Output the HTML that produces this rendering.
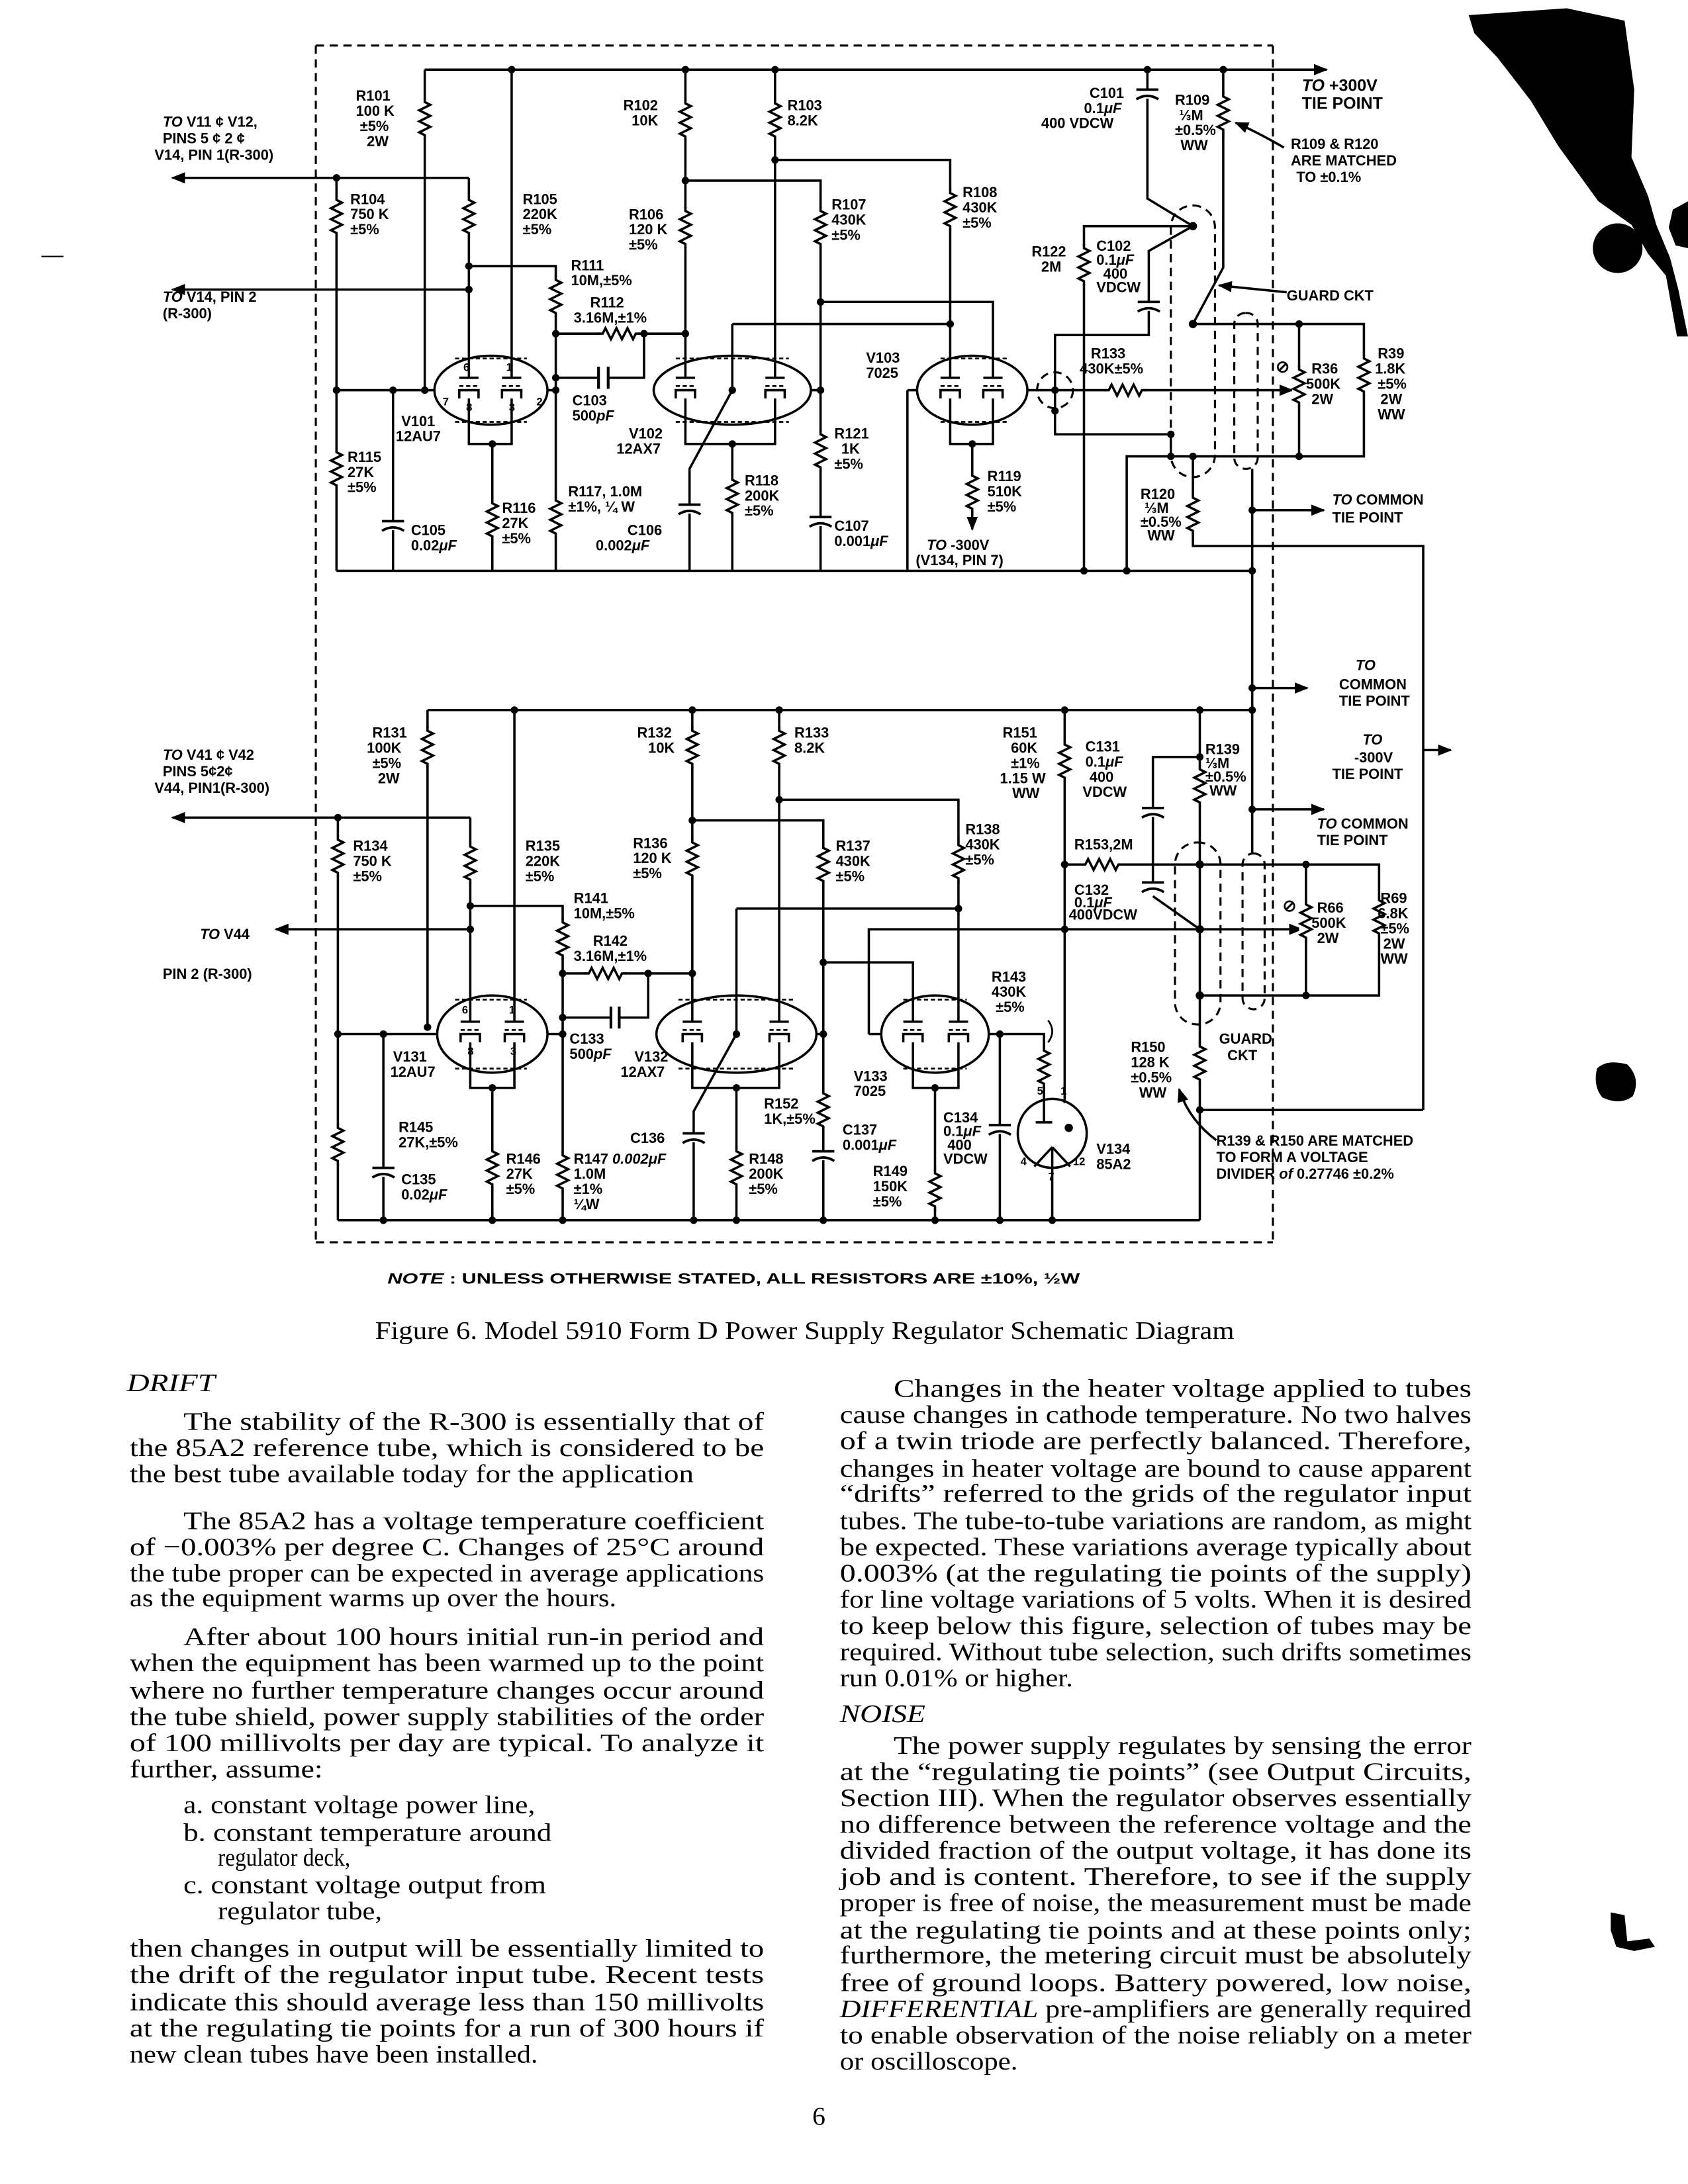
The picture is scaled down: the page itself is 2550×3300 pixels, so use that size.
<!DOCTYPE html>
<html><head><meta charset="utf-8"><style>
html,body{margin:0;padding:0;background:#fff}
svg{display:block}
.w{stroke:#000;stroke-width:1.7;fill:none}
.d{stroke:#000;stroke-width:1.5;fill:none;stroke-dasharray:6 4}
.dt{stroke:#000;stroke-width:1.3;fill:none;stroke-dasharray:3 2}
.l{font-family:"Liberation Sans",sans-serif;font-weight:bold;font-size:10.5px;fill:#000}
.b{font-family:"Liberation Serif",serif;font-size:18.5px;fill:#000}
.i{font-style:italic}
</style></head><body>
<svg width="2550" height="3300" viewBox="0 0 1224 1584" xmlns="http://www.w3.org/2000/svg">
<defs>
<symbol id="rv" overflow="visible"><rect x="-5" y="1" width="10" height="28" fill="#fff"/><path d="M0 0v3l4 2-8 4 8 4-8 4 8 4-8 4 4 2v3" fill="none" stroke="#000" stroke-width="1.7"/></symbol>
<symbol id="rh" overflow="visible"><rect x="1" y="-5" width="28" height="10" fill="#fff"/><path d="M0 0h3l2-4 4 8 4-8 4 8 4-8 4 8 2-4h3" fill="none" stroke="#000" stroke-width="1.7"/></symbol>
<symbol id="cv" overflow="visible"><rect x="-8" y="0.5" width="16" height="6" fill="#fff"/><path d="M-8 0h16M-8 7q8-5 16 0" fill="none" stroke="#000" stroke-width="1.8"/></symbol>
<marker id="ah" viewBox="0 0 10 10" refX="9" refY="5" markerWidth="6" markerHeight="6" orient="auto"><path d="M0 1L10 5L0 9z" fill="#000"/></marker>
</defs>
<rect width="1224" height="1584" fill="#fff"/>

<!-- border -->
<path class="d" d="M229 33H923M229 901H923M229 33V901M923 33V901"/>

<!-- ================= UPPER ================= -->
<g class="w">
<path d="M308 50.5H962" marker-end="url(#ah)"/>
<path d="M308 50.5V283M371 50.5V274M497 50.5V274M562 50.5V274"/>
<path d="M497 131H595V414M562 116H689V274M595 219H720V274M531 235H689"/>
<path d="M531 235V283L500 340V414"/>
<path d="M244 283H315M244 129V414"/>
<path d="M340 129H125" marker-end="url(#ah)"/>
<path d="M340 129V274"/>
<path d="M340 210H125" marker-end="url(#ah)"/>
<path d="M340 193H403V414M403 242H497M467 242V274H441M434 274H403M397 283H403"/>
<path d="M357 322V414M285 283V414M531 322V414M588 283H595"/>
<path d="M658 283H665M658 283V414M705 322V372"/>
<path d="M705 360V384" marker-end="url(#ah)"/>
<path d="M745 283H937" marker-end="url(#ah)"/>
<path d="M865 164L833 182V243H765V283M765 283V315H849V331"/>
<path d="M832 50.5V144L865 164M887 50.5V194L865 235M865 164H786V414"/>
<path d="M865 235H989V331H817V414M942 235V331"/>
<path d="M865 331V396H1032V805"/>
<path d="M908 340V619"/>
<path d="M908 370H960" marker-end="url(#ah)"/>
<path d="M244 414H908"/>
<path d="M434 266V282M441 266V282" stroke-width="2"/>
<!-- tubes upper -->
<ellipse cx="356" cy="283" rx="41" ry="25"/>
<ellipse cx="531" cy="283" rx="57" ry="25"/>
<ellipse cx="705" cy="283" rx="40" ry="25"/>
<circle class="d" cx="765" cy="283" r="13"/>
<path d="M333 274h14M364 274h14M490 274h14M555 274h14M682 274h14M713 274h14"/>
<path d="M333 289v-6h14v6M364 289v-6h14v6M490 289v-6h14v6M555 289v-6h14v6M682 289v-6h14v6M713 289v-6h14v6"/>
<path d="M340 289V322H371V289M497 289V322H562V289M689 289V322H720V289"/>
<!-- guard -->
<rect class="d" x="849" y="149" width="32" height="197" rx="16"/>
<rect class="d" x="895" y="227" width="17" height="113" rx="8"/>
<path d="M931 107Q910 95 896 89" marker-end="url(#ah)"/>
<path d="M933 212L884 207" marker-end="url(#ah)"/>
</g>
<g class="dt">
<path d="M333 280h14M364 280h14M490 280h14M555 280h14M682 280h14M713 280h14"/>
<path d="M330 260h52M330 306h52M490 260h82M490 306h82M682 260h48M682 306h48"/>
</g>
<g>
<use href="#rv" x="308" y="71"/><use href="#rv" x="497" y="72"/><use href="#rv" x="497" y="150"/>
<use href="#rv" x="562" y="72"/><use href="#rv" x="595" y="150"/><use href="#rv" x="595" y="312"/>
<use href="#rv" x="689" y="137"/><use href="#rv" x="244" y="142"/><use href="#rv" x="244" y="325"/>
<use href="#rv" x="340" y="142"/><use href="#rv" x="403" y="200"/><use href="#rv" x="403" y="360"/>
<use href="#rh" x="434" y="242"/><use href="#rv" x="357" y="362"/><use href="#rv" x="531" y="345"/>
<use href="#rv" x="705" y="342"/><use href="#rh" x="801" y="283"/><use href="#rv" x="887" y="67"/>
<use href="#rv" x="786" y="177"/><use href="#rv" x="942" y="265"/><use href="#rv" x="989" y="257"/>
<use href="#rv" x="865" y="358"/>
<use href="#cv" x="285" y="378"/><use href="#cv" x="500" y="366"/><use href="#cv" x="595" y="375"/>
<use href="#cv" x="832" y="65"/><use href="#cv" x="833" y="219"/>
</g>
<g fill="#000">
<circle cx="371" cy="50.5" r="2.7"/><circle cx="497" cy="50.5" r="2.7"/><circle cx="562" cy="50.5" r="2.7"/>
<circle cx="832" cy="50.5" r="2.7"/><circle cx="887" cy="50.5" r="2.7"/>
<circle cx="244" cy="129" r="2.7"/><circle cx="340" cy="193" r="2.7"/><circle cx="340" cy="210" r="2.7"/>
<circle cx="403" cy="242" r="2.7"/><circle cx="467" cy="242" r="2.7"/><circle cx="497" cy="242" r="2.7"/>
<circle cx="403" cy="274" r="2.7"/><circle cx="403" cy="283" r="2.7"/><circle cx="244" cy="283" r="2.7"/>
<circle cx="285" cy="283" r="2.7"/><circle cx="308" cy="283" r="2.7"/><circle cx="357" cy="322" r="2.7"/>
<circle cx="497" cy="131" r="2.7"/><circle cx="562" cy="116" r="2.7"/><circle cx="595" cy="219" r="2.7"/>
<circle cx="689" cy="235" r="2.7"/><circle cx="531" cy="283" r="2.7"/><circle cx="595" cy="283" r="2.7"/>
<circle cx="531" cy="322" r="2.7"/><circle cx="705" cy="322" r="2.7"/><circle cx="765" cy="283" r="2.7"/>
<circle cx="765" cy="298" r="2.7"/><circle cx="865" cy="164" r="3"/><circle cx="865" cy="235" r="3"/>
<circle cx="942" cy="235" r="2.7"/><circle cx="942" cy="331" r="2.7"/><circle cx="849" cy="315" r="2.7"/>
<circle cx="849" cy="331" r="2.7"/><circle cx="865" cy="331" r="2.7"/><circle cx="908" cy="370" r="2.7"/>
<circle cx="786" cy="414" r="2.7"/><circle cx="817" cy="414" r="2.7"/><circle cx="908" cy="414" r="2.7"/>
</g>
<g class="l">
<text x="258" y="73">R101<tspan x="258" dy="11">100 K</tspan><tspan x="261" dy="11">±5%</tspan><tspan x="266" dy="11">2W</tspan></text>
<text x="118" y="92" class="l"><tspan class="i">TO</tspan> V11 ¢ V12,<tspan x="118" dy="12">PINS 5 ¢ 2 ¢</tspan><tspan x="112" dy="12">V14, PIN 1(R-300)</tspan></text>
<text x="118" y="219"><tspan class="i">TO</tspan> V14, PIN 2<tspan x="118" dy="12">(R-300)</tspan></text>
<text x="254" y="148">R104<tspan x="254" dy="11">750 K</tspan><tspan x="254" dy="11">±5%</tspan></text>
<text x="379" y="148">R105<tspan x="379" dy="11">220K</tspan><tspan x="379" dy="11">±5%</tspan></text>
<text x="452" y="80">R102<tspan x="458" dy="11">10K</tspan></text>
<text x="571" y="80">R103<tspan x="571" dy="11">8.2K</tspan></text>
<text x="456" y="159">R106<tspan x="456" dy="11">120 K</tspan><tspan x="456" dy="11">±5%</tspan></text>
<text x="603" y="152">R107<tspan x="603" dy="11">430K</tspan><tspan x="603" dy="11">±5%</tspan></text>
<text x="698" y="143">R108<tspan x="698" dy="11">430K</tspan><tspan x="698" dy="11">±5%</tspan></text>
<text x="414" y="196">R111<tspan x="414" dy="11">10M,±5%</tspan></text>
<text x="428" y="223">R112<tspan x="416" dy="11">3.16M,±1%</tspan></text>
<text x="415" y="294">C103<tspan x="415" dy="11">500<tspan class="i">pF</tspan></tspan></text>
<text x="291" y="309">V101<tspan x="287" dy="11">12AU7</tspan></text>
<text x="456" y="318">V102<tspan x="447" dy="11">12AX7</tspan></text>
<text x="628" y="263">V103<tspan x="628" dy="11">7025</tspan></text>
<text x="252" y="335">R115<tspan x="252" dy="11">27K</tspan><tspan x="252" dy="11">±5%</tspan></text>
<text x="364" y="372">R116<tspan x="364" dy="11">27K</tspan><tspan x="364" dy="11">±5%</tspan></text>
<text x="412" y="360">R117, 1.0M<tspan x="412" dy="11">±1%, ¼ W</tspan></text>
<text x="298" y="388">C105<tspan x="298" dy="11">0.02<tspan class="i">μF</tspan></tspan></text>
<text x="455" y="388">C106<tspan x="432" dy="11">0.002<tspan class="i">μF</tspan></tspan></text>
<text x="540" y="352">R118<tspan x="540" dy="11">200K</tspan><tspan x="540" dy="11">±5%</tspan></text>
<text x="605" y="318">R121<tspan x="610" dy="11">1K</tspan><tspan x="605" dy="11">±5%</tspan></text>
<text x="605" y="385">C107<tspan x="605" dy="11">0.001<tspan class="i">μF</tspan></tspan></text>
<text x="716" y="349">R119<tspan x="716" dy="11">510K</tspan><tspan x="716" dy="11">±5%</tspan></text>
<text x="672" y="399"><tspan class="i">TO</tspan> -300V<tspan x="664" dy="11">(V134, PIN 7)</tspan></text>
<text x="790" y="71">C101<tspan x="786" dy="11">0.1<tspan class="i">μF</tspan></tspan><tspan x="755" dy="11">400 VDCW</tspan></text>
<text x="852" y="76">R109<tspan x="855" dy="11">⅓M</tspan><tspan x="852" dy="11">±0.5%</tspan><tspan x="856" dy="11">WW</tspan></text>
<text x="944" y="66" font-size="12"><tspan class="i">TO</tspan> +300V<tspan x="944" dy="13">TIE POINT</tspan></text>
<text x="936" y="108">R109 &amp; R120<tspan x="936" dy="12">ARE MATCHED</tspan><tspan x="940" dy="12">TO ±0.1%</tspan></text>
<text x="748" y="186">R122<tspan x="755" dy="11">2M</tspan></text>
<text x="795" y="182">C102<tspan x="795" dy="10">0.1<tspan class="i">μF</tspan></tspan><tspan x="800" dy="10">400</tspan><tspan x="795" dy="10">VDCW</tspan></text>
<text x="933" y="218">GUARD CKT</text>
<text x="791" y="260">R133<tspan x="783" dy="11">430K±5%</tspan></text>
<text x="925" y="270" font-size="12">⊘</text>
<text x="951" y="271">R36<tspan x="947" dy="11">500K</tspan><tspan x="951" dy="11">2W</tspan></text>
<text x="999" y="260">R39<tspan x="997" dy="11">1.8K</tspan><tspan x="999" dy="11">±5%</tspan><tspan x="1001" dy="11">2W</tspan><tspan x="999" dy="11">WW</tspan></text>
<text x="827" y="362">R120<tspan x="830" dy="10">⅓M</tspan><tspan x="827" dy="10">±0.5%</tspan><tspan x="832" dy="10">WW</tspan></text>
<text x="966" y="366"><tspan class="i">TO</tspan> COMMON<tspan x="966" dy="13">TIE POINT</tspan></text>
<text x="336" y="269" font-size="8">6</text><text x="367" y="269" font-size="8">1</text>
<text x="321" y="294" font-size="8">7</text><text x="389" y="294" font-size="8">2</text>
<text x="338" y="298" font-size="8">8</text><text x="369" y="298" font-size="8">3</text>
</g>

<!-- ================= LOWER ================= -->
<g class="w">
<path d="M310 515H908M310 515V745M373 515V741"/>
<path d="M908 499H948" marker-end="url(#ah)"/>
<path d="M908 587H960" marker-end="url(#ah)"/>
<path d="M245 593V885"/>
<path d="M341 593H125" marker-end="url(#ah)"/>
<path d="M341 593V741"/>
<path d="M341 674H200" marker-end="url(#ah)"/>
<path d="M341 657H408V885M408 706H502M470 706V738H449M443 738H408M397 750H408"/>
<path d="M245 750H317M357 789V885M278 750V885"/>
<path d="M502 515V741M565 515V741M502 595H597V885M592 750H597M597 698H662V741M565 580H695V741M534 659H695"/>
<path d="M534 659V750L503 806V885M534 789V885"/>
<path d="M630 750H639M630 750V674H944" marker-end="url(#ah)"/>
<path d="M678 789V885M717 750H757V800M725 750V885"/>
<path d="M772 515V800M772 627H870"/>
<path d="M870 515V885M870 549H836V641M836 650L870 674"/>
<path d="M870 627H1000V722H870M947 627V722"/>
<path d="M870 805H1032M1032 544H1052" marker-end="url(#ah)"/>
<path d="M245 885H870"/>
<path d="M443 730V746M449 730V746" stroke-width="2"/>
<ellipse cx="357" cy="750" rx="40" ry="28"/>
<ellipse cx="534" cy="750" rx="58" ry="28"/>
<ellipse cx="678" cy="750" rx="39" ry="28"/>
<circle cx="763" cy="822" r="25"/>
<path d="M751 814h12M757 814V800M763 832L750 846M763 832L776 846M763 832V847M763 847V885"/>
<path d="M334 741h14M366 741h14M495 741h14M558 741h14M655 741h14M688 741h14"/>
<path d="M334 756v-6h14v6M366 756v-6h14v6M495 756v-6h14v6M558 756v-6h14v6M655 756v-6h14v6M688 756v-6h14v6"/>
<path d="M341 756V789H373V756M502 756V789H565V756M662 756V789H695V756"/>
<rect class="d" x="852" y="611" width="33" height="132" rx="16"/>
<rect class="d" x="901" y="619" width="16" height="113" rx="8"/>
<path d="M882 827Q862 812 855 790" marker-end="url(#ah)"/>
<path d="M760 740q6 8 0 16" stroke-width="1.3"/>
</g>
<circle cx="775" cy="818" r="3" fill="#000"/>
<g class="dt">
<path d="M334 747h14M366 747h14M495 747h14M558 747h14M655 747h14M688 747h14"/>
<path d="M330 725h52M330 775h52M492 725h84M492 775h84M655 725h46M655 775h46"/>
</g>
<g>
<use href="#rv" x="310" y="527"/><use href="#rv" x="245" y="606"/><use href="#rv" x="245" y="815"/>
<use href="#rv" x="341" y="611"/><use href="#rv" x="408" y="666"/><use href="#rv" x="408" y="835"/>
<use href="#rh" x="424" y="706"/><use href="#rv" x="357" y="832"/><use href="#rv" x="502" y="527"/>
<use href="#rv" x="502" y="608"/><use href="#rv" x="565" y="527"/><use href="#rv" x="597" y="612"/>
<use href="#rv" x="597" y="790"/><use href="#rv" x="695" y="610"/><use href="#rv" x="534" y="832"/>
<use href="#rv" x="678" y="848"/><use href="#rv" x="757" y="759"/><use href="#rv" x="772" y="537"/>
<use href="#rh" x="784" y="627"/><use href="#rv" x="870" y="555"/><use href="#rv" x="870" y="756"/>
<use href="#rv" x="947" y="653"/><use href="#rv" x="1000" y="650"/>
<use href="#cv" x="278" y="847"/><use href="#cv" x="503" y="822"/><use href="#cv" x="597" y="835"/>
<use href="#cv" x="725" y="816"/><use href="#cv" x="836" y="586"/><use href="#cv" x="836" y="640"/>
</g>
<g fill="#000">
<circle cx="373" cy="515" r="2.7"/><circle cx="502" cy="515" r="2.7"/><circle cx="565" cy="515" r="2.7"/>
<circle cx="772" cy="515" r="2.7"/><circle cx="870" cy="515" r="2.7"/><circle cx="908" cy="515" r="2.7"/>
<circle cx="908" cy="499" r="2.7"/><circle cx="908" cy="587" r="2.7"/>
<circle cx="245" cy="593" r="2.7"/><circle cx="341" cy="657" r="2.7"/><circle cx="341" cy="674" r="2.7"/>
<circle cx="408" cy="706" r="2.7"/><circle cx="470" cy="706" r="2.7"/><circle cx="502" cy="706" r="2.7"/>
<circle cx="408" cy="738" r="2.7"/><circle cx="408" cy="750" r="2.7"/><circle cx="245" cy="750" r="2.7"/>
<circle cx="278" cy="750" r="2.7"/><circle cx="310" cy="745" r="2.7"/><circle cx="357" cy="789" r="2.7"/>
<circle cx="502" cy="595" r="2.7"/><circle cx="565" cy="580" r="2.7"/><circle cx="597" cy="698" r="2.7"/>
<circle cx="695" cy="659" r="2.7"/><circle cx="534" cy="750" r="2.7"/><circle cx="597" cy="750" r="2.7"/>
<circle cx="534" cy="789" r="2.7"/><circle cx="678" cy="789" r="2.7"/><circle cx="725" cy="750" r="2.7"/>
<circle cx="772" cy="627" r="2.7"/><circle cx="772" cy="674" r="2.7"/><circle cx="870" cy="549" r="2.7"/>
<circle cx="870" cy="627" r="3"/><circle cx="870" cy="674" r="3"/><circle cx="870" cy="722" r="3"/>
<circle cx="947" cy="627" r="2.7"/><circle cx="947" cy="722" r="2.7"/><circle cx="870" cy="805" r="2.7"/>
<circle cx="278" cy="885" r="2.7"/><circle cx="357" cy="885" r="2.7"/><circle cx="408" cy="885" r="2.7"/>
<circle cx="503" cy="885" r="2.7"/><circle cx="534" cy="885" r="2.7"/><circle cx="597" cy="885" r="2.7"/>
<circle cx="678" cy="885" r="2.7"/><circle cx="725" cy="885" r="2.7"/><circle cx="763" cy="885" r="2.7"/>
</g>
<g class="l">
<text x="270" y="535">R131<tspan x="266" dy="11">100K</tspan><tspan x="270" dy="11">±5%</tspan><tspan x="274" dy="11">2W</tspan></text>
<text x="118" y="551"><tspan class="i">TO</tspan> V41 ¢ V42<tspan x="118" dy="12">PINS 5¢2¢</tspan><tspan x="112" dy="12">V44, PIN1(R-300)</tspan></text>
<text x="145" y="681"><tspan class="i">TO</tspan> V44</text>
<text x="118" y="710">PIN 2 (R-300)</text>
<text x="256" y="617">R134<tspan x="256" dy="11">750 K</tspan><tspan x="256" dy="11">±5%</tspan></text>
<text x="381" y="617">R135<tspan x="381" dy="11">220K</tspan><tspan x="381" dy="11">±5%</tspan></text>
<text x="462" y="535">R132<tspan x="470" dy="11">10K</tspan></text>
<text x="576" y="535">R133<tspan x="576" dy="11">8.2K</tspan></text>
<text x="459" y="615">R136<tspan x="459" dy="11">120 K</tspan><tspan x="459" dy="11">±5%</tspan></text>
<text x="606" y="617">R137<tspan x="606" dy="11">430K</tspan><tspan x="606" dy="11">±5%</tspan></text>
<text x="700" y="605">R138<tspan x="700" dy="11">430K</tspan><tspan x="700" dy="11">±5%</tspan></text>
<text x="727" y="535">R151<tspan x="733" dy="11">60K</tspan><tspan x="733" dy="11">±1%</tspan><tspan x="725" dy="11">1.15 W</tspan><tspan x="734" dy="11">WW</tspan></text>
<text x="787" y="545">C131<tspan x="787" dy="11">0.1<tspan class="i">μF</tspan></tspan><tspan x="790" dy="11">400</tspan><tspan x="785" dy="11">VDCW</tspan></text>
<text x="874" y="547">R139<tspan x="874" dy="10">⅓M</tspan><tspan x="874" dy="10">±0.5%</tspan><tspan x="877" dy="10">WW</tspan></text>
<text x="983" y="486" class="l i">TO</text>
<text x="971" y="500">COMMON<tspan x="971" dy="12">TIE POINT</tspan></text>
<text x="988" y="540" class="l i">TO</text>
<text x="982" y="553">-300V<tspan x="966" dy="12">TIE POINT</tspan></text>
<text x="955" y="601"><tspan class="i">TO</tspan> COMMON<tspan x="955" dy="12">TIE POINT</tspan></text>
<text x="779" y="616">R153,2M</text>
<text x="779" y="649">C132<tspan x="779" dy="9">0.1<tspan class="i">μF</tspan></tspan><tspan x="775" dy="9">400VDCW</tspan></text>
<text x="930" y="661" font-size="12">⊘</text>
<text x="955" y="662">R66<tspan x="951" dy="11">500K</tspan><tspan x="955" dy="11">2W</tspan></text>
<text x="1001" y="655">R69<tspan x="999" dy="11">6.8K</tspan><tspan x="1001" dy="11">±5%</tspan><tspan x="1003" dy="11">2W</tspan><tspan x="1001" dy="11">WW</tspan></text>
<text x="416" y="655">R141<tspan x="416" dy="11">10M,±5%</tspan></text>
<text x="430" y="686">R142<tspan x="416" dy="11">3.16M,±1%</tspan></text>
<text x="413" y="757">C133<tspan x="413" dy="11">500<tspan class="i">pF</tspan></tspan></text>
<text x="285" y="770">V131<tspan x="283" dy="11">12AU7</tspan></text>
<text x="460" y="770">V132<tspan x="450" dy="11">12AX7</tspan></text>
<text x="619" y="784">V133<tspan x="619" dy="11">7025</tspan></text>
<text x="719" y="712">R143<tspan x="719" dy="11">430K</tspan><tspan x="722" dy="11">±5%</tspan></text>
<text x="289" y="821">R145<tspan x="289" dy="11">27K,±5%</tspan></text>
<text x="291" y="859">C135<tspan x="291" dy="11">0.02<tspan class="i">μF</tspan></tspan></text>
<text x="367" y="844">R146<tspan x="367" dy="11">27K</tspan><tspan x="367" dy="11">±5%</tspan></text>
<text x="416" y="844">R147 <tspan class="i">0.002μF</tspan><tspan x="416" dy="11">1.0M</tspan><tspan x="416" dy="11">±1%</tspan><tspan x="416" dy="11">¼W</tspan></text>
<text x="457" y="829">C136</text>
<text x="554" y="804">R152<tspan x="554" dy="11">1K,±5%</tspan></text>
<text x="611" y="823">C137<tspan x="611" dy="11">0.001<tspan class="i">μF</tspan></tspan></text>
<text x="543" y="844">R148<tspan x="543" dy="11">200K</tspan><tspan x="543" dy="11">±5%</tspan></text>
<text x="684" y="814">C134<tspan x="684" dy="10">0.1<tspan class="i">μF</tspan></tspan><tspan x="687" dy="10">400</tspan><tspan x="684" dy="10">VDCW</tspan></text>
<text x="633" y="853">R149<tspan x="633" dy="11">150K</tspan><tspan x="633" dy="11">±5%</tspan></text>
<text x="795" y="837">V134<tspan x="795" dy="11">85A2</tspan></text>
<text x="820" y="763">R150<tspan x="820" dy="11">128 K</tspan><tspan x="820" dy="11">±0.5%</tspan><tspan x="826" dy="11">WW</tspan></text>
<text x="884" y="757">GUARD<tspan x="890" dy="12">CKT</tspan></text>
<text x="882" y="831">R139 &amp; R150 ARE MATCHED<tspan x="882" dy="12">TO FORM A VOLTAGE</tspan><tspan x="882" dy="12">DIVIDER <tspan class="i">of</tspan> 0.27746 ±0.2%</tspan></text>
<text x="752" y="794" font-size="8">5</text><text x="769" y="794" font-size="8">1</text>
<text x="740" y="845" font-size="8">4</text><text x="778" y="845" font-size="8">12</text><text x="760" y="856" font-size="8">7</text>
<text x="335" y="735" font-size="8">6</text><text x="369" y="735" font-size="8">1</text>
<text x="339" y="765" font-size="8">8</text><text x="370" y="765" font-size="8">3</text>
</g>

<text x="281" y="931" class="l" textLength="502" lengthAdjust="spacingAndGlyphs"><tspan class="i">NOTE</tspan> : UNLESS OTHERWISE STATED, ALL RESISTORS ARE ±10%, ½W</text>
<text x="272" y="971" class="b" font-size="19" textLength="623" lengthAdjust="spacingAndGlyphs">Figure 6. Model 5910 Form D Power Supply Regulator Schematic Diagram</text>

<!-- left column -->
<g class="b">
<text x="92" y="1009" class="i" textLength="64" lengthAdjust="spacingAndGlyphs">DRIFT</text>
<text x="133" y="1037" textLength="421" lengthAdjust="spacingAndGlyphs">The stability of the R-300 is essentially that of</text>
<text x="94" y="1056" textLength="460" lengthAdjust="spacingAndGlyphs">the 85A2 reference tube, which is considered to be</text>
<text x="94" y="1075" textLength="409" lengthAdjust="spacingAndGlyphs">the best tube available today for the application</text>
<text x="133" y="1109" textLength="421" lengthAdjust="spacingAndGlyphs">The 85A2 has a voltage temperature coefficient</text>
<text x="94" y="1128" textLength="460" lengthAdjust="spacingAndGlyphs">of −0.003% per degree C. Changes of 25°C around</text>
<text x="94" y="1147" textLength="460" lengthAdjust="spacingAndGlyphs">the tube proper can be expected in average applications</text>
<text x="94" y="1165" textLength="353" lengthAdjust="spacingAndGlyphs">as the equipment warms up over the hours.</text>
<text x="133" y="1193" textLength="421" lengthAdjust="spacingAndGlyphs">After about 100 hours initial run-in period and</text>
<text x="94" y="1212" textLength="460" lengthAdjust="spacingAndGlyphs">when the equipment has been warmed up to the point</text>
<text x="94" y="1232" textLength="460" lengthAdjust="spacingAndGlyphs">where no further temperature changes occur around</text>
<text x="94" y="1251" textLength="460" lengthAdjust="spacingAndGlyphs">the tube shield, power supply stabilities of the order</text>
<text x="94" y="1270" textLength="460" lengthAdjust="spacingAndGlyphs">of 100 millivolts per day are typical. To analyze it</text>
<text x="94" y="1289" textLength="140" lengthAdjust="spacingAndGlyphs">further, assume:</text>
<text x="133" y="1315" textLength="255" lengthAdjust="spacingAndGlyphs">a. constant voltage power line,</text>
<text x="133" y="1335" textLength="267" lengthAdjust="spacingAndGlyphs">b. constant temperature around</text>
<text x="158" y="1353" textLength="96" lengthAdjust="spacingAndGlyphs">regulator deck,</text>
<text x="133" y="1373" textLength="263" lengthAdjust="spacingAndGlyphs">c. constant voltage output from</text>
<text x="158" y="1392" textLength="119" lengthAdjust="spacingAndGlyphs">regulator tube,</text>
<text x="94" y="1419" textLength="460" lengthAdjust="spacingAndGlyphs">then changes in output will be essentially limited to</text>
<text x="94" y="1438" textLength="460" lengthAdjust="spacingAndGlyphs">the drift of the regulator input tube. Recent tests</text>
<text x="94" y="1458" textLength="460" lengthAdjust="spacingAndGlyphs">indicate this should average less than 150 millivolts</text>
<text x="94" y="1477" textLength="460" lengthAdjust="spacingAndGlyphs">at the regulating tie points for a run of 300 hours if</text>
<text x="94" y="1496" textLength="296" lengthAdjust="spacingAndGlyphs">new clean tubes have been installed.</text>
</g>
<!-- right column -->
<g class="b">
<text x="648" y="1013" textLength="419" lengthAdjust="spacingAndGlyphs">Changes in the heater voltage applied to tubes</text>
<text x="609" y="1032" textLength="458" lengthAdjust="spacingAndGlyphs">cause changes in cathode temperature. No two halves</text>
<text x="609" y="1051" textLength="458" lengthAdjust="spacingAndGlyphs">of a twin triode are perfectly balanced. Therefore,</text>
<text x="609" y="1071" textLength="458" lengthAdjust="spacingAndGlyphs">changes in heater voltage are bound to cause apparent</text>
<text x="609" y="1089" textLength="458" lengthAdjust="spacingAndGlyphs">“drifts” referred to the grids of the regulator input</text>
<text x="609" y="1109" textLength="458" lengthAdjust="spacingAndGlyphs">tubes. The tube-to-tube variations are random, as might</text>
<text x="609" y="1128" textLength="458" lengthAdjust="spacingAndGlyphs">be expected. These variations average typically about</text>
<text x="609" y="1147" textLength="458" lengthAdjust="spacingAndGlyphs">0.003% (at the regulating tie points of the supply)</text>
<text x="609" y="1166" textLength="458" lengthAdjust="spacingAndGlyphs">for line voltage variations of 5 volts. When it is desired</text>
<text x="609" y="1185" textLength="458" lengthAdjust="spacingAndGlyphs">to keep below this figure, selection of tubes may be</text>
<text x="609" y="1204" textLength="458" lengthAdjust="spacingAndGlyphs">required. Without tube selection, such drifts sometimes</text>
<text x="609" y="1223" textLength="169" lengthAdjust="spacingAndGlyphs">run 0.01% or higher.</text>
<text x="609" y="1249" class="i" textLength="62" lengthAdjust="spacingAndGlyphs">NOISE</text>
<text x="648" y="1272" textLength="419" lengthAdjust="spacingAndGlyphs">The power supply regulates by sensing the error</text>
<text x="609" y="1291" textLength="458" lengthAdjust="spacingAndGlyphs">at the “regulating tie points” (see Output Circuits,</text>
<text x="609" y="1310" textLength="458" lengthAdjust="spacingAndGlyphs">Section III). When the regulator observes essentially</text>
<text x="609" y="1329" textLength="458" lengthAdjust="spacingAndGlyphs">no difference between the reference voltage and the</text>
<text x="609" y="1348" textLength="458" lengthAdjust="spacingAndGlyphs">divided fraction of the output voltage, it has done its</text>
<text x="609" y="1367" textLength="458" lengthAdjust="spacingAndGlyphs">job and is content. Therefore, to see if the supply</text>
<text x="609" y="1386" textLength="458" lengthAdjust="spacingAndGlyphs">proper is free of noise, the measurement must be made</text>
<text x="609" y="1406" textLength="458" lengthAdjust="spacingAndGlyphs">at the regulating tie points and at these points only;</text>
<text x="609" y="1424" textLength="458" lengthAdjust="spacingAndGlyphs">furthermore, the metering circuit must be absolutely</text>
<text x="609" y="1444" textLength="458" lengthAdjust="spacingAndGlyphs">free of ground loops. Battery powered, low noise,</text>
<text x="609" y="1463" textLength="458" lengthAdjust="spacingAndGlyphs"><tspan class="i">DIFFERENTIAL</tspan> pre-amplifiers are generally required</text>
<text x="609" y="1482" textLength="458" lengthAdjust="spacingAndGlyphs">to enable observation of the noise reliably on a meter</text>
<text x="609" y="1501" textLength="129" lengthAdjust="spacingAndGlyphs">or oscilloscope.</text>
<text x="589" y="1541" font-size="19">6</text>
</g>

<!-- blotches -->
<path d="M1065 11L1136 6L1178 15L1185 65L1183 114L1195 142L1201 163L1211 187L1217 210L1224 244L1216 244L1208 200L1195 184L1183 163L1159 146L1130 106L1110 73L1086 42L1069 24Z" fill="#000"/>
<circle cx="1173" cy="180" r="18" fill="#000"/>
<path d="M1224 146L1213 152L1210 165L1215 178L1224 180Z" fill="#000"/>
<path d="M1158 775Q1165 768 1180 772Q1190 782 1184 795Q1175 802 1162 796Q1155 788 1158 775Z" fill="#000"/>
<path d="M1168 1387L1178 1389L1180 1408L1196 1406L1200 1412L1185 1415L1172 1412L1168 1400Z" fill="#000"/>
<path d="M30 186H46" stroke="#000" stroke-width="1"/>
</svg>
</body></html>
